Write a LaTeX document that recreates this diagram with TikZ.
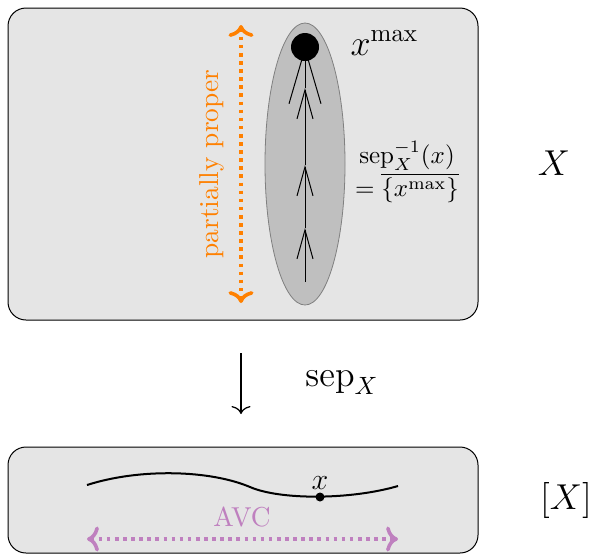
\documentclass[tikz,border=0pt]{standalone}
\usepackage{amsmath}
\usetikzlibrary{arrows.meta,shapes.geometric,positioning}

\begin{document}
\begin{tikzpicture}[x=0.4pt, y=-0.4pt,
    region/.style={draw=black, fill=gray!20, line width=0.4pt, rounded corners=7.2pt},
    fibre/.style={ellipse, draw=gray, fill=gray!50, line width=0.32pt, inner sep=0pt,
      minimum width=32pt, minimum height=112.8pt},
    flow/.style={line width=0.4pt, -{Straight Barb[length=11.6pt, width=6.4pt]}},
    bigflow/.style={line width=0.4pt, -{Straight Barb[length=22pt, width=12.8pt]}},
    spanarr/.style={<->, line width=1.44pt, dash pattern=on 1.44pt off 1.8pt},
    txt/.style={font=\fontsize{10.95}{13}\selectfont},
    big/.style={font=\fontsize{14.4}{17}\selectfont},
  ]
  \useasboundingbox (0,0) rectangle (592,555);

  % the space X
  \draw[region] (8,8) rectangle (478,320);
  \node[fibre] (fib) at (305,164) {};
  \coordinate (p0) at (305,282);
  \coordinate (p1) at (305,228);
  \coordinate (p2) at (305,165);
  \coordinate (p3) at (305,88);
  \node[circle, fill=black, inner sep=0pt, minimum size=11.2pt] (xmax) at (305,47) {};
  \draw[flow] (p0) -- (p1);
  \draw[flow] (p1) -- (p2);
  \draw[flow] (p2) -- (p3);
  \draw[bigflow] (p3) -- (xmax.center);
  \node[big, anchor=base west, inner sep=0pt] (xmaxlbl) at (350,55) {$x^{\max}$};
  \node[font=\fontsize{10}{12}\selectfont, align=center] (fiblbl) at (407,172)
    {$\operatorname{sep}_X^{-1}(x)$\\$=\overline{\{x^{\max}\}}$};

  \coordinate (ppTop) at (241,25);
  \coordinate (ppBot) at (241,303);
  \draw[spanarr, orange] (ppTop) -- (ppBot);
  \node[txt, orange, rotate=90] (pplbl) at (212,164) {partially proper};

  \node[big] (spX) at (554,163) {$X$};

  % the map
  \coordinate (mapS) at (241,353);
  \coordinate (mapT) at (241,414);
  \draw[line width=0.5pt, -{To[length=3.2pt, width=7.6pt]}] (mapS) -- (mapT);
  \node[big] (maplbl) at (342,383) {$\operatorname{sep}_X$};

  % the quotient [X]
  \draw[region] (8,447) rectangle (478,553);
  \draw[line width=0.8pt] (87,485) .. controls (140,468) and (210,470) .. (250,487)
    .. controls (280,500) and (350,500) .. (398,486);
  \node[circle, fill=black, inner sep=0pt, minimum size=3.6pt] (pt) at (320,497) {};
  \node[font=\fontsize{13}{15}\selectfont, above=1pt of pt, inner sep=0pt] (ptlbl) {$x$};
  \coordinate (avcL) at (87,539);
  \coordinate (avcR) at (398,539);
  \draw[spanarr, violet!50] (avcL) -- (avcR);
  \node[txt, violet!50] (avclbl) at (242,517) {AVC};

  \node[big] (qX) at (566,500) {$[X]$};
\end{tikzpicture}
\end{document}
